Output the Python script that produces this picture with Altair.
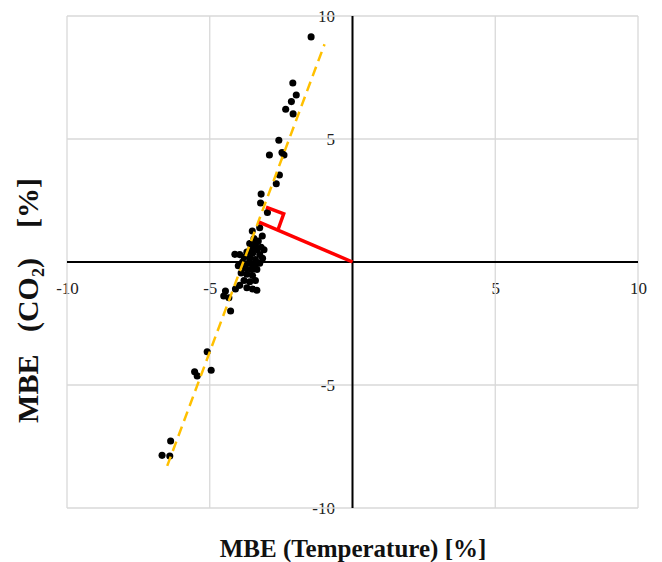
import altair as alt
import pandas as pd

# MBE values (percent)
temp_mbe = [-1.45, -2.09, -1.97, -2.14, -2.34, -2.08, -2.58, -2.91, -2.47, -2.40,
            -2.56, -2.67, -3.20, -3.22, -2.98, -3.25, -3.51, -3.16,
            -3.45, -3.30, -3.60, -3.40, -3.20, -3.55, -3.35, -3.10, -3.70, -3.50,
            -3.25, -4.12, -3.95, -3.80, -3.60, -3.40, -3.15, -3.85, -3.65, -3.45,
            -3.25, -4.00, -3.75, -3.55, -3.35, -3.90, -3.70, -3.50, -3.80, -3.60,
            -3.40, -3.95, -3.70, -3.50, -3.35, -4.10,
            -4.45, -4.51, -4.33, -4.27,
            -5.09, -5.53, -5.44, -4.95, -6.37, -6.67, -6.40]
co2_mbe = [9.15, 7.28, 6.79, 6.52, 6.21, 6.02, 4.95, 4.35, 4.45, 4.35,
           3.54, 3.18, 2.76, 2.40, 2.01, 1.39, 1.26, 1.06,
           0.95, 0.85, 0.75, 0.70, 0.60, 0.55, 0.50, 0.50, 0.40, 0.35,
           0.30, 0.31, 0.30, 0.20, 0.15, 0.10, 0.15, 0.00, -0.05, -0.10,
           -0.05, -0.15, -0.25, -0.30, -0.30, -0.45, -0.50, -0.55, -0.75, -0.80,
           -0.75, -0.95, -1.05, -1.10, -1.15, -1.10,
           -1.18, -1.38, -1.45, -1.99,
           -3.65, -4.46, -4.63, -4.40, -7.28, -7.86, -7.89]

fit_x = [-6.49, -0.98]
fit_y = [-8.29, 8.85]
perp_x = [0.0, -3.27]
perp_y = [0.0, 1.62]
mark_x = [-3.03, -2.41, -2.60]
mark_y = [2.23, 1.96, 1.34]
grid_ticks = [-10, -5, 0, 5, 10]

W, H = 571, 492
serif = "Liberation Serif"

pts = pd.DataFrame({"x": temp_mbe, "y": co2_mbe})
fit = pd.DataFrame({"x": fit_x, "y": fit_y, "o": [0, 1]})
perp = pd.DataFrame({"x": perp_x, "y": perp_y, "o": [0, 1]})
mark = pd.DataFrame({"x": mark_x, "y": mark_y, "o": [0, 1, 2]})
gx = pd.DataFrame({"v": grid_ticks, "lo": [-10] * 5, "hi": [10] * 5})
zero = pd.DataFrame({"v": [0], "lo": [-10], "hi": [10]})

xs = alt.Scale(domain=[-10, 10], nice=False)
ys = alt.Scale(domain=[-10, 10], nice=False)

label_expr = "datum.value == 0 ? '' : (datum.value < 0 ? '-' + abs(datum.value) : '' + datum.value)"

x_axis = alt.Axis(values=grid_ticks, grid=False, domain=False, ticks=False,
                  offset=-H / 2, labelExpr=label_expr, labelFont=serif,
                  labelFontSize=17, labelColor="#222222", labelPadding=18,
                  labelFlush=False, labelOverlap=False,
                  title="MBE (Temperature) [%]", titleFont=serif, titleFontSize=25,
                  titleFontWeight="bold", titleColor="#111111",
                  titleX=W / 2, titleY=286, titleBaseline="middle", titleAlign="center")
y_axis = alt.Axis(values=grid_ticks, grid=False, domain=False, ticks=False,
                  offset=-W / 2, labelExpr=label_expr, labelFont=serif,
                  labelFontSize=17, labelColor="#222222", labelPadding=18,
                  labelFlush=False, labelOverlap=False,
                  title="MBE\u00a0\u00a0\u00a0(CO\u2082)\u00a0\u00a0\u00a0\u00a0[%]",
                  titleFont=serif, titleFontSize=30, titleFontWeight="bold",
                  titleColor="#111111", titleX=-324, titleY=284,
                  titleBaseline="middle", titleAlign="center", titleAngle=-90)

gridv = alt.Chart(gx).mark_rule(color="#d9d9d9", strokeWidth=1.3).encode(
    x=alt.X("v:Q", scale=xs, axis=x_axis), y=alt.Y("lo:Q", scale=ys, axis=y_axis), y2="hi:Q")
gridh = alt.Chart(gx).mark_rule(color="#d9d9d9", strokeWidth=1.3).encode(
    y=alt.Y("v:Q", scale=ys), x=alt.X("lo:Q", scale=xs), x2="hi:Q")
zv = alt.Chart(zero).mark_rule(color="black", strokeWidth=2).encode(
    x=alt.X("v:Q", scale=xs), y=alt.Y("lo:Q", scale=ys), y2="hi:Q")
zh = alt.Chart(zero).mark_rule(color="black", strokeWidth=2).encode(
    y=alt.Y("v:Q", scale=ys), x=alt.X("lo:Q", scale=xs), x2="hi:Q")

points = alt.Chart(pts).mark_circle(color="black", size=50, opacity=1).encode(
    x=alt.X("x:Q", scale=xs), y=alt.Y("y:Q", scale=ys))
fitline = alt.Chart(fit).mark_line(color="#FFC000", strokeWidth=2.5, strokeDash=[10, 6]).encode(
    x=alt.X("x:Q", scale=xs), y=alt.Y("y:Q", scale=ys), order="o:Q")
perpline = alt.Chart(perp).mark_line(color="#FF0000", strokeWidth=3.5).encode(
    x=alt.X("x:Q", scale=xs), y=alt.Y("y:Q", scale=ys), order="o:Q")
markline = alt.Chart(mark).mark_line(color="#FF0000", strokeWidth=3.5).encode(
    x=alt.X("x:Q", scale=xs), y=alt.Y("y:Q", scale=ys), order="o:Q")

chart = alt.layer(gridv, gridh, zv, zh, points, fitline, perpline, markline).properties(
    width=W, height=H,
    autosize=alt.AutoSizeParams(type="none"),
    padding={"left": 67, "top": 16, "right": 24, "bottom": 54},
    background="white",
).configure_view(stroke=None)

chart.save("out.html", embed_options={"renderer": "svg", "actions": False})
